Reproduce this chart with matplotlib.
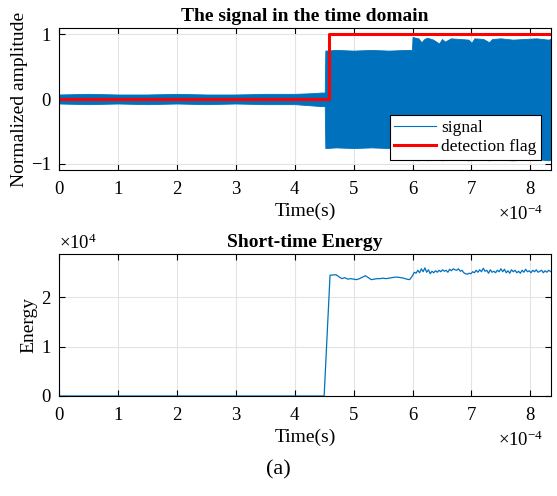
import numpy as np
import matplotlib
matplotlib.use("Agg")
import matplotlib.pyplot as plt
from matplotlib.lines import Line2D

plt.rcParams['font.family'] = ['Liberation Serif', 'DejaVu Serif']
plt.rcParams['mathtext.fontset'] = 'custom'
plt.rcParams['mathtext.rm'] = 'Liberation Serif'
plt.rcParams['mathtext.it'] = 'Liberation Serif:italic'

# time axis in units of 1e-4 s, energy in units of 1e4
# signal envelope (upper / lower)
sig_t = [0.0, 0.5, 1.0, 1.5, 2.0, 2.5, 3.0, 3.5, 4.0, 4.3, 4.45, 4.51,
         4.52, 4.7, 5.0, 5.3, 5.6, 5.9, 5.99,
         6.0, 6.1, 6.15, 6.2, 6.25, 6.35, 6.45, 6.5, 6.55, 6.65, 6.8,
         6.95, 7.0, 7.05, 7.2, 7.3, 7.35, 7.5, 7.7, 7.9, 8.1, 8.3, 8.35]
sig_up = [0.07, 0.08, 0.07, 0.07, 0.08, 0.07, 0.07, 0.08, 0.08, 0.09, 0.10, 0.10,
          0.75, 0.76, 0.75, 0.76, 0.75, 0.76, 0.76,
          0.96, 0.94, 0.88, 0.93, 0.95, 0.92, 0.86, 0.93, 0.89, 0.94, 0.93,
          0.92, 0.87, 0.94, 0.93, 0.88, 0.93, 0.94, 0.92, 0.93, 0.94, 0.92, 0.93]
sig_lo = [-0.07, -0.08, -0.07, -0.08, -0.07, -0.08, -0.07, -0.08, -0.08, -0.10, -0.11, -0.11,
          -0.76, -0.75, -0.76, -0.75, -0.76, -0.76, -0.76,
          -0.94, -0.95, -0.93, -0.94, -0.95, -0.93, -0.94, -0.95, -0.94, -0.93, -0.94,
          -0.95, -0.94, -0.93, -0.94, -0.95, -0.93, -0.94, -0.95, -0.94, -0.93, -0.95, -0.94]

flag_t = [0.0, 4.58, 4.58, 8.35]
flag_v = [0, 0, 1, 1]

energy_t = [0.0, 4.50, 4.60, 4.70, 4.75, 4.80, 4.85, 4.90, 4.95, 5.00, 5.05, 5.10,
            5.15, 5.20, 5.25, 5.30, 5.35, 5.40, 5.45, 5.50, 5.55, 5.60, 5.65, 5.70,
            5.75, 5.80, 5.85, 5.90, 5.95, 6.00, 6.03, 6.06, 6.09, 6.12, 6.15, 6.18,
            6.21, 6.24, 6.27, 6.30, 6.33, 6.36, 6.39, 6.42, 6.45, 6.48, 6.51, 6.54,
            6.57, 6.60, 6.63, 6.66, 6.69, 6.72, 6.75, 6.78, 6.81, 6.84, 6.87, 6.90,
            6.93, 6.96, 6.99, 7.02, 7.05, 7.08, 7.11, 7.14, 7.17, 7.20, 7.23, 7.26,
            7.29, 7.32, 7.35, 7.38, 7.41, 7.44, 7.47, 7.50, 7.53, 7.56, 7.59, 7.62,
            7.65, 7.68, 7.71, 7.74, 7.77, 7.80, 7.83, 7.86, 7.89, 7.92, 7.95, 7.98,
            8.01, 8.04, 8.07, 8.10, 8.13, 8.16, 8.19, 8.22, 8.25, 8.28, 8.31, 8.35]
energy_v = [0.0, 0.0, 2.45, 2.46, 2.42, 2.38, 2.40, 2.37, 2.38, 2.37, 2.36, 2.38,
            2.41, 2.44, 2.40, 2.36, 2.37, 2.38, 2.38, 2.39, 2.38, 2.39, 2.40, 2.41,
            2.41, 2.40, 2.39, 2.37, 2.36, 2.44, 2.51, 2.49, 2.55, 2.50, 2.58, 2.52,
            2.60, 2.51, 2.56, 2.48, 2.53, 2.50, 2.54, 2.51, 2.55, 2.52, 2.56, 2.53,
            2.55, 2.51, 2.57, 2.54, 2.58, 2.56, 2.55, 2.58, 2.53, 2.55, 2.50, 2.48,
            2.47, 2.49, 2.48, 2.52, 2.50, 2.55, 2.51, 2.56, 2.52, 2.59, 2.53, 2.55,
            2.49, 2.56, 2.51, 2.53, 2.50, 2.55, 2.52, 2.58, 2.52, 2.57, 2.50, 2.54,
            2.49, 2.56, 2.52, 2.55, 2.50, 2.53, 2.49, 2.55, 2.51, 2.57, 2.52, 2.54,
            2.50, 2.55, 2.52, 2.56, 2.51, 2.53, 2.55, 2.50, 2.54, 2.51, 2.55, 2.52]

blue = '#0072BD'
xmax = 8.35

fig = plt.figure(figsize=(5.57, 4.96), dpi=100)
ax1 = fig.add_axes([59/557, 1-170/496, 492/557, 142/496])
ax2 = fig.add_axes([59/557, 1-396/496, 492/557, 142/496])


def style(ax):
    ax.set_xlim(0, xmax)
    ax.set_xticks(range(0, 9))
    ax.grid(True, color='#e3e3e3', linewidth=0.8)
    ax.set_axisbelow(True)
    ax.tick_params(direction='in', top=True, right=True, length=4, width=0.8,
                   labelsize=13.5)
    ax.tick_params(axis='x', pad=8)
    ax.tick_params(axis='y', pad=6)
    for s in ax.spines.values():
        s.set_linewidth(0.8)
    ax.set_xlabel('Time(s)', fontsize=14, labelpad=3)
    ax.text(0.984, -0.245, r'$\times10^{-4}$', transform=ax.transAxes,
            ha='right', va='top', fontsize=13.5)


# top: signal in time domain
ax1.fill_between(sig_t, sig_lo, sig_up, color=blue, linewidth=0.6, edgecolor=blue)
ax1.plot(flag_t, flag_v, color='red', linewidth=2.2)
ax1.set_ylim(-1.1, 1.1)
ax1.set_yticks([-1, 0, 1])
ax1.set_ylabel('Normalized amplitude', fontsize=14, labelpad=2)
ax1.set_title('The signal in the time domain', fontsize=14, fontweight='bold', pad=5)
style(ax1)
handles = [Line2D([], [], color=blue, linewidth=0.8),
           Line2D([], [], color='red', linewidth=2.2)]
leg = ax1.legend(handles, ['signal', 'detection flag'], loc='lower right',
                 fontsize=12.5, fancybox=False, framealpha=1, edgecolor='black',
                 borderpad=0.25, handlelength=2.4, handletextpad=0.3,
                 labelspacing=0.2, borderaxespad=0.6)
leg.get_frame().set_linewidth(0.8)

# bottom: short-time energy
ax2.plot(energy_t, energy_v, color=blue, linewidth=0.9)
ax2.set_ylim(0, 2.88)
ax2.set_yticks([0, 1, 2])
ax2.set_ylabel('Energy', fontsize=14, labelpad=3)
ax2.set_title('Short-time Energy', fontsize=14, fontweight='bold', pad=5)
ax2.text(0.0, 1.01, r'$\times10^{4}$', transform=ax2.transAxes,
         ha='left', va='bottom', fontsize=13.5)
style(ax2)

fig.text(0.5, 1 - 470/496, '(a)', ha='center', va='center', fontsize=16)

fig.savefig('out.png', dpi=100)
